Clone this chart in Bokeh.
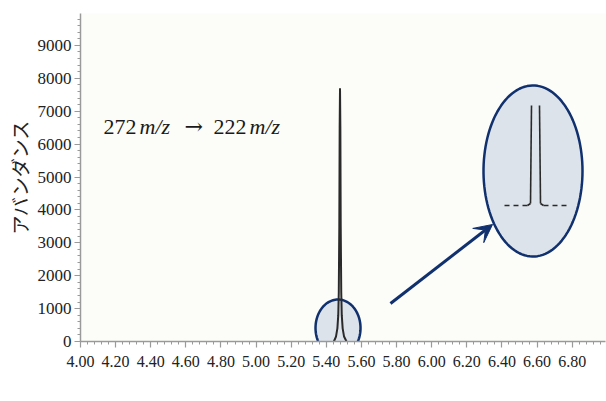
import numpy as np
from bokeh.plotting import figure
from bokeh.models import (FixedTicker, PrintfTickFormatter, Label, Arrow, VeeHead,
                          PolyAnnotation, Range1d)
from bokeh.embed import file_html
from bokeh.resources import INLINE

# ---- data ----
time_min = [5.443, 5.455, 5.463, 5.468, 5.471, 5.474, 5.476, 5.478,
            5.480, 5.482, 5.485, 5.488, 5.493, 5.501, 5.515]
abundance = [0, 150, 400, 800, 1500, 3500, 6500, 7700,
             6500, 3500, 1500, 800, 400, 150, 0]
x_ticks = [4.00, 4.20, 4.40, 4.60, 4.80, 5.00, 5.20, 5.40, 5.60,
           5.80, 6.00, 6.20, 6.40, 6.60, 6.80]
y_ticks = [0, 1000, 2000, 3000, 4000, 5000, 6000, 7000, 8000, 9000]
transition = ["272", "m/z", "\u2192", "222", "m/z"]

NAVY = "#10306e"
FILL = "#dde3eb"
AXIS = "#9a9a9a"
SERIF = "'Liberation Serif', serif"

p = figure(width=606, height=400, output_backend="svg", toolbar_location=None,
           x_range=Range1d(4.0, 6.99), y_range=Range1d(0, 9970),
           min_border_left=80, min_border_right=1, min_border_top=13, min_border_bottom=59)
p.background_fill_color = "#fcfcf8"
p.border_fill_color = "white"
p.outline_line_color = None
p.grid.visible = False

minor_x = list(np.round(np.arange(4.0, 6.99, 0.04), 2))
minor_y = list(range(0, 10000, 200))
p.xaxis.ticker = FixedTicker(ticks=x_ticks, minor_ticks=minor_x)
p.yaxis.ticker = FixedTicker(ticks=y_ticks, minor_ticks=minor_y)
p.xaxis.formatter = PrintfTickFormatter(format="%.2f")

for ax in (p.xaxis, p.yaxis):
    ax.axis_line_color = AXIS
    ax.axis_line_width = 1.5
    ax.major_tick_line_color = AXIS
    ax.minor_tick_line_color = AXIS
    ax.major_tick_line_width = 1.2
    ax.minor_tick_line_width = 1
    ax.major_tick_in = 0
    ax.minor_tick_in = 0
    ax.major_tick_out = 6
    ax.minor_tick_out = 3
    ax.major_label_text_font = SERIF
    ax.major_label_text_color = "#222222"

p.xaxis.major_label_text_font_size = "16px"
p.yaxis.major_label_text_font_size = "17px"
p.xaxis.major_label_standoff = 8
p.yaxis.major_label_standoff = 3

p.yaxis.axis_label = "アバンダンス"
p.yaxis.axis_label_text_font = "Noto Sans CJK JP"
p.yaxis.axis_label_text_font_size = "19px"
p.yaxis.axis_label_text_font_style = "normal"
p.yaxis.axis_label_text_color = "#222222"
p.yaxis.axis_label_standoff = 2

# small highlight ellipse around the peak base (underlay, unclipped)
peak_x = time_min[int(np.argmax(abundance))]
xs_per_px = (6.99 - 4.0) / 525.0
t = np.linspace(0, 2 * np.pi, 120)
cx_px = (peak_x - 4.0) / xs_per_px - 2
small = PolyAnnotation(xs=list(cx_px + 22.5 * np.cos(t)), ys=list(13.5 + 28.5 * np.sin(t)),
                       xs_units="screen", ys_units="screen",
                       fill_color=FILL, fill_alpha=1.0, line_color=NAVY, line_alpha=1.0,
                       line_width=2.5, level="underlay")
p.add_layout(small)

p.line(time_min, abundance, line_color="#2a2a2a", line_width=2)

# magnified inset ellipse
big = PolyAnnotation(xs=list(452.5 + 49.5 * np.cos(t)), ys=list(170.5 + 85.5 * np.sin(t)),
                     xs_units="screen", ys_units="screen",
                     fill_color=FILL, fill_alpha=1.0, line_color=NAVY, line_alpha=1.0,
                     line_width=2.5)
p.add_layout(big)

def seg(x0, y0, x1, y1, dash="solid", color="#2a2a2a", w=1.6):
    p.add_layout(Arrow(end=None, x_start=x0, y_start=y0, x_end=x1, y_end=y1,
                       start_units="screen", end_units="screen",
                       line_color=color, line_width=w, line_dash=dash))

base = 136
seg(424, base, 447, base, dash="5 4")
seg(463, base, 488, base, dash="5 4")
seg(447, base, 450, base + 2)
seg(450, base + 2, 451, 236)
seg(459, 236, 460, base + 2)
seg(460, base + 2, 463, base)

# arrow pointing to the inset
p.add_layout(Arrow(end=VeeHead(size=18, fill_color=NAVY, line_color=NAVY),
                   x_start=310, y_start=38, x_end=412, y_end=117,
                   start_units="screen", end_units="screen",
                   line_color=NAVY, line_width=3))

# transition label
xpos = [23, 59, 104, 133, 169]
styles = ["normal", "italic", "normal", "normal", "italic"]
fonts = [SERIF, SERIF, "'DejaVu Serif', serif", SERIF, SERIF]
for s, xx, st, fnt in zip(transition, xpos, styles, fonts):
    p.add_layout(Label(x=xx, y=215, x_units="screen", y_units="screen", text=s,
                       text_font=fnt, text_font_size="22px",
                       text_font_style=st, text_color="#1a1a1a",
                       text_baseline="alphabetic", text_align="left"))

# x axis title
p.add_layout(Label(x=242, y=-47, x_units="screen", y_units="screen", text="時間",
                   text_font="Noto Sans CJK JP", text_font_size="18px",
                   text_color="#222222", text_align="center", text_baseline="middle"))

open("out.html", "w").write(file_html(p, INLINE))
